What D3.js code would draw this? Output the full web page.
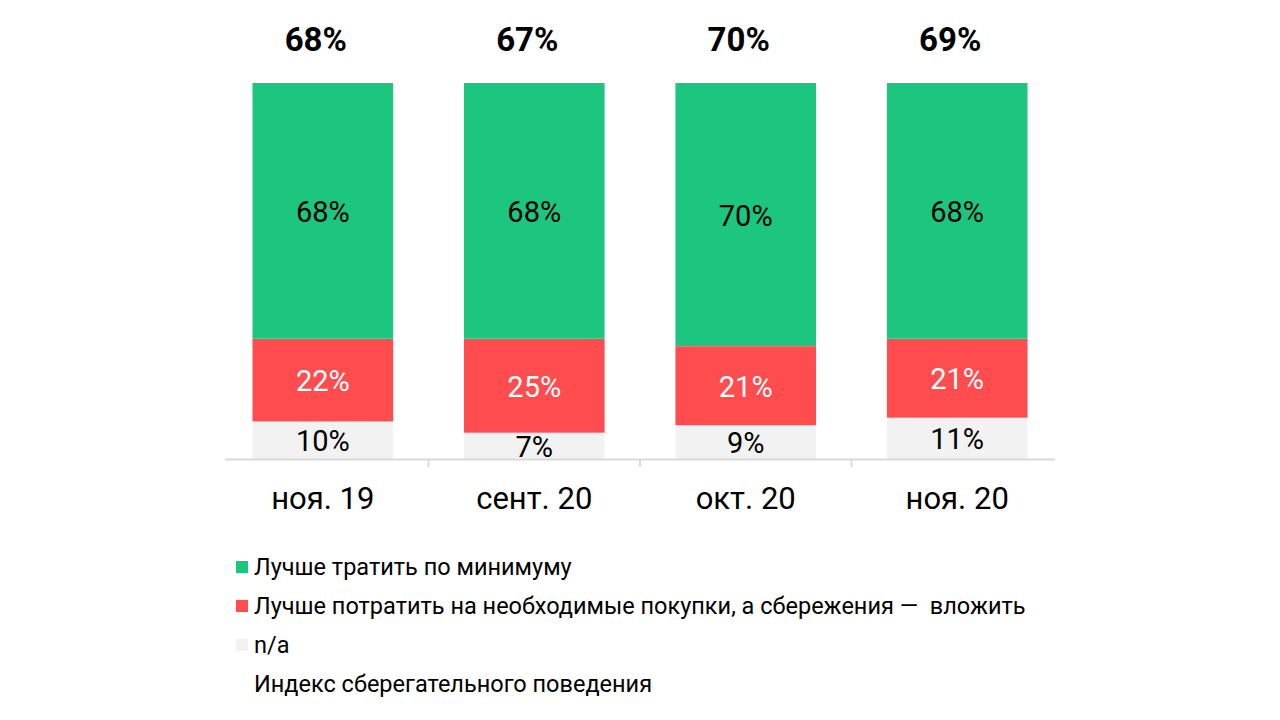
<!DOCTYPE html>
<html><head><meta charset="utf-8">
<script src="https://cdn.jsdelivr.net/npm/d3@7"></script>
<style>body{margin:0;background:#fff;font-family:Roboto,sans-serif}</style>
</head><body><div id="chart"></div>
<script>
var categories = ["ноя. 19", "сент. 20", "окт. 20", "ноя. 20"];
var minimum = [68, 68, 70, 68];
var invest = [22, 25, 21, 21];
var na = [10, 7, 9, 11];
var indexValues = [68, 67, 70, 69];
var seriesNames = ["Лучше тратить по минимуму",
  "Лучше потратить на необходимые покупки, а сбережения —  вложить",
  "n/a", "Индекс сберегательного поведения"];
var colors = ["#1dc67f", "#ff4d4f", "#f2f2f2", null];
var textColors = ["#000", "#fff", "#000"];

var width = 1280, height = 720;
var svg = d3.select("#chart").append("svg").attr("width", width).attr("height", height);

var x = d3.scaleBand().domain(categories).range([225, 1055]).paddingInner(0.335).paddingOuter(0.13);
var y = d3.scaleLinear().domain([0, 100]).range([459, 83]);

var rows = categories.map(function (c, i) { return {cat: c, na: na[i], invest: invest[i], minimum: minimum[i]}; });
var stack = d3.stack().keys(["na", "invest", "minimum"])(rows);
var colorOf = {na: colors[2], invest: colors[1], minimum: colors[0]};
var textOf = {na: textColors[2], invest: textColors[1], minimum: textColors[0]};

stack.forEach(function (layer) {
  var g = svg.append("g");
  g.selectAll("rect").data(layer).enter().append("rect")
    .attr("x", function (d) { return x(d.data.cat); })
    .attr("width", x.bandwidth())
    .attr("y", function (d) { return y(d[1]); })
    .attr("height", function (d) { return y(d[0]) - y(d[1]); })
    .attr("fill", colorOf[layer.key]);
  g.selectAll("text").data(layer).enter().append("text")
    .attr("x", function (d) { return x(d.data.cat) + x.bandwidth() / 2; })
    .attr("y", function (d) { return (y(d[0]) + y(d[1])) / 2 + 1; })
    .attr("text-anchor", "middle").attr("dominant-baseline", "central")
    .style("font-size", "29px").attr("fill", textOf[layer.key])
    .text(function (d) { return d.data[layer.key] + "%"; });
});

// index labels
svg.selectAll(".idx").data(indexValues).enter().append("text")
  .attr("x", function (d, i) { return x(categories[i]) + x.bandwidth() / 2 - 7; })
  .attr("y", 39).attr("text-anchor", "middle").attr("dominant-baseline", "central")
  .style("font-size", "33px").style("font-weight", "bold")
  .text(function (d) { return d + "%"; });

// axis
svg.append("line").attr("x1", 225).attr("x2", 1055).attr("y1", 459.5).attr("y2", 459.5)
  .attr("stroke", "#d9d9d9").attr("stroke-width", 2);
var step = x.step();
categories.slice(1).forEach(function (c) {
  var tx = x(c) - step * x.paddingInner() / 2;
  svg.append("line").attr("x1", tx).attr("x2", tx).attr("y1", 459).attr("y2", 467)
    .attr("stroke", "#d9d9d9").attr("stroke-width", 2);
});
svg.selectAll(".cat").data(categories).enter().append("text")
  .attr("x", function (d) { return x(d) + x.bandwidth() / 2; })
  .attr("y", 498).attr("text-anchor", "middle").attr("dominant-baseline", "central")
  .style("font-size", "31px").text(function (d) { return d; });

// legend
var lg = svg.selectAll(".lg").data(seriesNames).enter().append("g")
  .attr("transform", function (d, i) { return "translate(236," + (567 + i * 39) + ")"; });
lg.append("rect").attr("x", 0).attr("y", -6).attr("width", 12).attr("height", 12)
  .attr("fill", function (d, i) { return colors[i] || "none"; });
lg.append("text").attr("x", 18).attr("dominant-baseline", "central")
  .style("font-size", "23.5px").style("white-space", "pre").text(function (d) { return d; });
</script></body></html>
